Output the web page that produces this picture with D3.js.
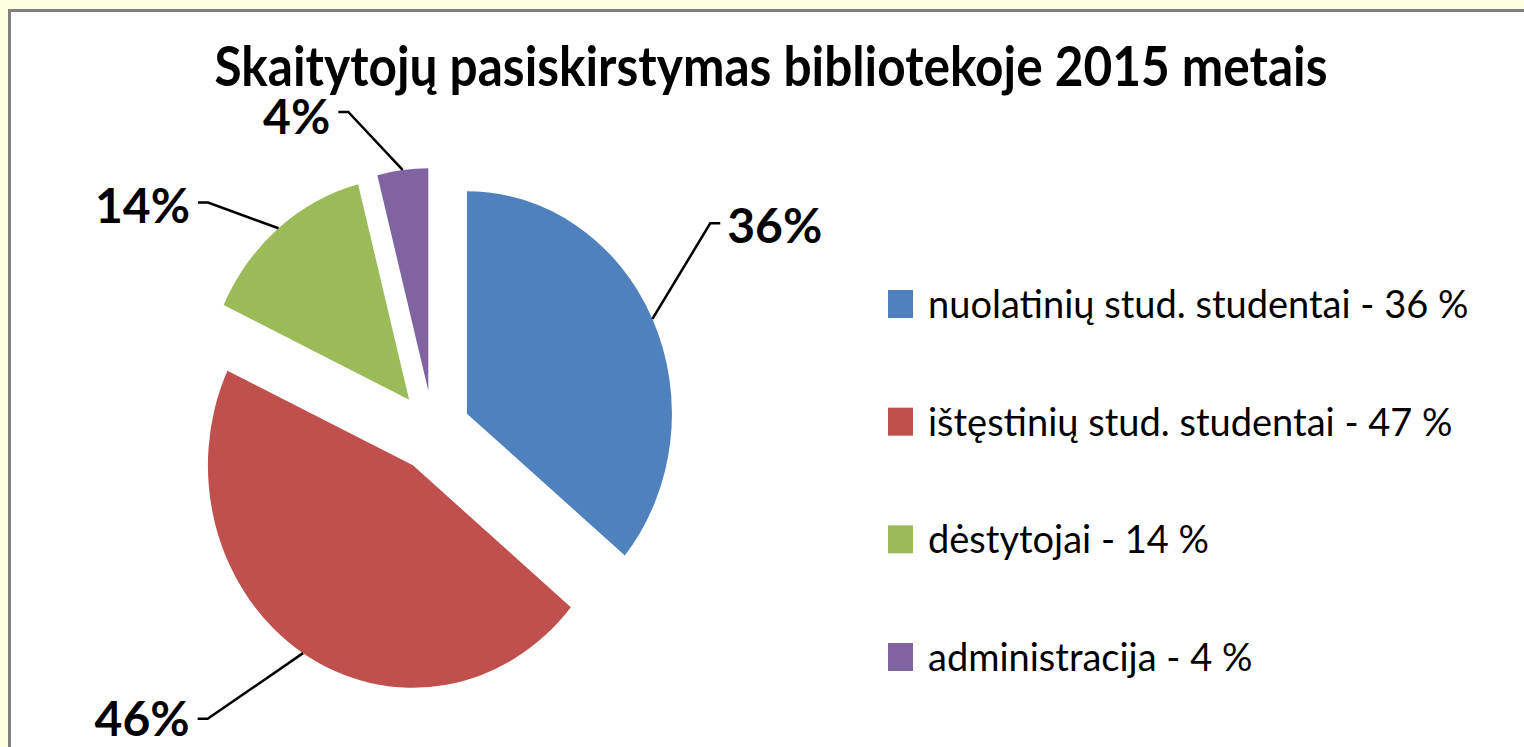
<!DOCTYPE html>
<html>
<head>
<meta charset="utf-8">
<script src="https://cdn.jsdelivr.net/npm/d3@7"></script>
<style>
  html, body { margin: 0; padding: 0; background: #FFFFE4; }
  svg { display: block; }
</style>
</head>
<body>
<svg id="chart" width="1524" height="747"></svg>
<script>
// ---- data ----
const categories = ["nuolatinių stud. studentai", "ištęstinių stud. studentai", "dėstytojai", "administracija"];
const values = [36, 46, 14, 4];
const pieLabels = ["36%", "46%", "14%", "4%"];
const legendLabels = ["nuolatinių stud. studentai - 36 %", "ištęstinių stud. studentai - 47 %", "dėstytojai - 14 %", "administracija - 4 %"];
const colors = ["#4F81BD", "#C0504D", "#9BBB59", "#8064A2"];
const title = "Skaitytojų pasiskirstymas bibliotekoje 2015 metais";

// ---- layout ----
const W = 1524, H = 747;
const cx = 433, cy = 431, R = 205, yStretch = 1.085, explode = 37.5;
// label elbow placement relative to each exploded slice (angle shift in degrees, radius)
const labelAngleShift = [-10.6, 8.9, -8.3, -10.1];
const labelRadius = [300, 311, 271, 269];
const labelDy = [20, 17, 20, 22];

const svg = d3.select("#chart");

svg.append("rect").attr("x", 0).attr("y", 0).attr("width", W).attr("height", H).attr("fill", "#FFFFE2");
svg.append("rect").attr("x", 9.5).attr("y", 10.5).attr("width", 1700).attr("height", 900)
  .attr("fill", "#FFFFFF").attr("stroke", "#808080").attr("stroke-width", 3);

// title
svg.append("text").attr("transform", "translate(771,86) scale(1,1.1)").attr("text-anchor", "middle")
  .attr("font-family", "Lato, 'Open Sans', sans-serif").attr("font-weight", 700).attr("font-size", 50)
  .attr("fill", "#000").attr("textLength", 1113).attr("lengthAdjust", "spacingAndGlyphs")
  .text(title);

// pie
const pie = d3.pie().sort(null).value(d => d);
const arcs = pie(values);
const arc = d3.arc().innerRadius(0).outerRadius(R);

const g = svg.append("g").attr("transform", `translate(${cx},${cy}) scale(1,${yStretch})`);

function apex(d) {
  const mid = (d.startAngle + d.endAngle) / 2;
  return [explode * Math.sin(mid), -explode * Math.cos(mid)];
}

g.selectAll("path.slice").data(arcs).enter().append("path")
  .attr("class", "slice")
  .attr("d", arc)
  .attr("transform", d => { const a = apex(d); return `translate(${a[0]},${a[1]})`; })
  .attr("fill", (d, i) => colors[i]);

// leader lines + labels (screen coordinates)
function toScreen(p) { return [cx + p[0], cy + p[1] * yStretch]; }

arcs.forEach((d, i) => {
  const a = apex(d);
  const mid = (d.startAngle + d.endAngle) / 2;
  const start = toScreen([a[0] + R * Math.sin(mid), a[1] - R * Math.cos(mid)]);
  const la = mid + labelAngleShift[i] * Math.PI / 180;
  const elbow = toScreen([a[0] + labelRadius[i] * Math.sin(la), a[1] - labelRadius[i] * Math.cos(la)]);
  const right = Math.sin(la) > 0;
  const end = [elbow[0] + (right ? 10 : -10), elbow[1]];
  svg.append("path")
    .attr("d", d3.line()([start, elbow, end]))
    .attr("fill", "none").attr("stroke", "#000").attr("stroke-width", 2.5);
  svg.append("text")
    .attr("x", end[0] + (right ? 7 : -8))
    .attr("y", elbow[1] + labelDy[i])
    .attr("text-anchor", right ? "start" : "end")
    .attr("font-family", "Lato, 'Open Sans', sans-serif").attr("font-weight", 700).attr("font-size", 48)
    .attr("fill", "#000").text(pieLabels[i]);
});

// legend
const legendY = d3.scalePoint().domain(categories).range([304, 657]);
const lg = svg.append("g");
categories.forEach((c, i) => {
  const y = legendY(c);
  lg.append("rect").attr("x", 888).attr("y", y - 14).attr("width", 25).attr("height", 28).attr("fill", colors[i]);
  lg.append("text").attr("x", 928).attr("y", y + 14)
    .attr("font-family", "Lato, 'Open Sans', sans-serif").attr("font-size", 38)
    .attr("fill", "#000").text(legendLabels[i]);
});
</script>
</body>
</html>
